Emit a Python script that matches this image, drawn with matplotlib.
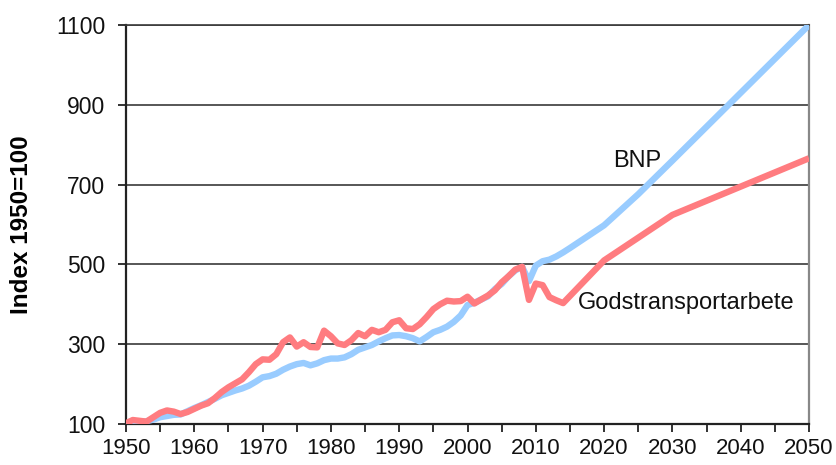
import matplotlib
matplotlib.use("Agg")
import matplotlib.pyplot as plt
from matplotlib.ticker import MultipleLocator

plt.rcParams['font.family'] = ['Liberation Sans', 'DejaVu Sans']

# Historical years 1950-2014
hist_years = list(range(1950, 2015))
gods_hist = [102, 110, 108, 106, 117, 128, 134, 131, 125, 130,
             138, 146, 152, 165, 180, 192, 202, 212, 230, 250,
             262, 261, 275, 305, 317, 294, 305, 293, 292, 334,
             320, 302, 298, 310, 328, 320, 336, 330, 336, 355,
             360, 340, 338, 350, 368, 388, 400, 409, 407, 408,
             419, 402, 412, 422, 435, 455, 470, 487, 494, 411,
             452, 448, 418, 410, 403]
bnp_hist = [100, 104, 104, 107, 111, 117, 120, 123, 124, 132,
            140, 147, 155, 163, 172, 178, 184, 189, 196, 206,
            217, 220, 226, 236, 244, 250, 253, 247, 252, 260,
            264, 264, 267, 275, 286, 292, 298, 307, 315, 322,
            323, 320, 315, 307, 318, 330, 336, 344, 356, 372,
            398, 404, 412, 420, 438, 451, 470, 485, 494, 458,
            497, 508, 512, 520, 530]

# Projections
gods_proj_years = [2020, 2030, 2050]
gods_proj = [510, 624, 766]
bnp_proj_years = [2015, 2020, 2025, 2030, 2035, 2040, 2045, 2050]
bnp_proj = [541, 598, 676, 760, 845, 930, 1015, 1100]

bnp_label = "BNP"
gods_label = "Godstransportarbete"
ylabel = "Index 1950=100"
yticks = [100, 300, 500, 700, 900, 1100]
xticks = list(range(1950, 2051, 10))

fig = plt.figure(figsize=(8.37, 4.65), dpi=100)
ax = fig.add_axes([126/837, 1 - 424/465, (809 - 126)/837, (424 - 25)/465])

blue = '#99CCFF'
red = '#FF7C80'

ax.plot(hist_years + bnp_proj_years, bnp_hist + bnp_proj, color=blue, lw=4.6,
        solid_capstyle='butt', solid_joinstyle='round', zorder=3)
ax.plot(hist_years + gods_proj_years, gods_hist + gods_proj, color=red, lw=4.6,
        solid_capstyle='butt', solid_joinstyle='round', zorder=4)

ax.set_xlim(1950, 2050)
ax.set_ylim(100, 1100)
ax.set_yticks(yticks)
ax.set_xticks(xticks)
ax.xaxis.set_minor_locator(MultipleLocator(5))

ax.grid(axis='y', color='#3a3a3a', lw=1.2, zorder=1)
ax.set_axisbelow(True)

for s in ['left', 'bottom']:
    ax.spines[s].set_color('#222222')
    ax.spines[s].set_linewidth(1.6)
ax.spines['top'].set_color('#3a3a3a')
ax.spines['top'].set_linewidth(1.2)
ax.spines['right'].set_color('#888888')
ax.spines['right'].set_linewidth(1.6)

ax.tick_params(axis='both', which='both', direction='out', length=6, width=1.3,
               color='#222222', labelcolor='#111111')
ax.tick_params(axis='y', pad=9, labelsize=16.5)
ax.tick_params(axis='x', pad=4, labelsize=16)

ax.set_ylabel(ylabel, fontsize=17.5, fontweight='bold')
ax.yaxis.set_label_coords(-(126 - 33)/683, 0.5)

ax.text(2021.3, 759, bnp_label, fontsize=17, ha='left', va='center', color='#111111')
ax.text(2016.2, 403, gods_label, fontsize=17, ha='left', va='center', color='#111111')

fig.savefig('out.png', dpi=100, facecolor='white')
